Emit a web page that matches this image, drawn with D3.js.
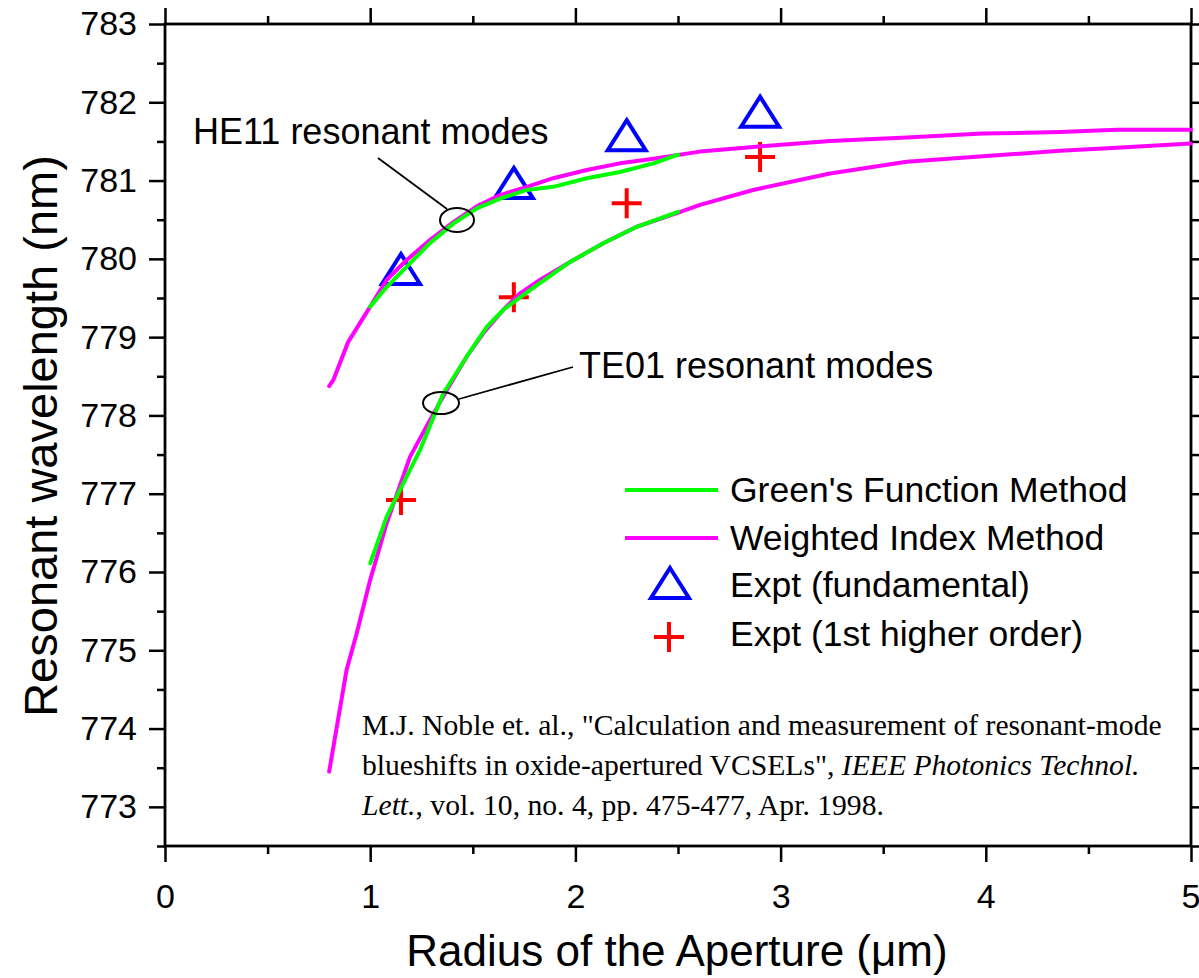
<!DOCTYPE html>
<html>
<head>
<meta charset="utf-8">
<script src="https://cdn.jsdelivr.net/npm/d3@7"></script>
<style>
  body { margin: 0; background: #fff; }
  svg { display: block; }
  .ax path { display: none; }
  .ax line { stroke: #000; stroke-width: 2.5; }
  .ax text { font-family: "Liberation Sans", Arial, sans-serif; font-size: 34px; fill: #000; }
</style>
</head>
<body>
<script>
// HE11 (upper) curves
let heWiX = [0.80, 0.82, 0.893, 1.0, 1.08, 1.178, 1.291, 1.405, 1.519, 1.633, 1.763, 1.892, 2.055, 2.217, 2.38, 2.607, 2.866, 3.241, 3.614, 3.986, 4.362, 4.639, 5.0];
let heWiY = [778.375, 778.45, 778.94, 779.39, 779.73, 779.985, 780.24, 780.47, 780.67, 780.815, 780.92, 781.03, 781.135, 781.22, 781.28, 781.37, 781.43, 781.505, 781.55, 781.60, 781.62, 781.65, 781.65];
let heGfX = [1.0, 1.08, 1.178, 1.291, 1.405, 1.519, 1.633, 1.763, 1.892, 2.055, 2.217, 2.38, 2.5];
let heGfY = [779.39, 779.64, 779.90, 780.20, 780.45, 780.645, 780.77, 780.88, 780.92, 781.03, 781.11, 781.22, 781.33];

// TE01 (lower) curves
let teWiX = [0.80, 0.885, 0.934, 1.0, 1.08, 1.194, 1.291, 1.373, 1.47, 1.551, 1.649, 1.73, 1.827, 1.974, 2.136, 2.299, 2.512, 2.607, 2.866, 3.241, 3.614, 3.986, 4.362, 4.639, 5.0];
let teWiY = [773.45, 774.75, 775.215, 775.90, 776.62, 777.47, 777.94, 778.32, 778.75, 779.05, 779.35, 779.56, 779.73, 779.96, 780.20, 780.41, 780.60, 780.69, 780.88, 781.09, 781.24, 781.31, 781.38, 781.42, 781.475];
let teGfX = [1.0, 1.08, 1.243, 1.356, 1.47, 1.568, 1.649, 1.779, 1.974, 2.136, 2.299, 2.5];
let teGfY = [776.11, 776.705, 777.56, 778.28, 778.75, 779.13, 779.35, 779.60, 779.96, 780.20, 780.41, 780.60];

// experiment
let exptX = [1.15, 1.7, 2.25, 2.9];
let fundY = [779.87, 780.97, 781.58, 781.88];
let higherY = [776.92, 779.51, 780.71, 781.30];

let xTicks = [0, 1, 2, 3, 4, 5];
let xMinor = [0.5, 1.5, 2.5, 3.5, 4.5];
let yTicks = [773, 774, 775, 776, 777, 778, 779, 780, 781, 782, 783];
let yMinor = [772.5, 773.5, 774.5, 775.5, 776.5, 777.5, 778.5, 779.5, 780.5, 781.5, 782.5];

let legendNames = ["Green's Function Method", "Weighted Index Method", "Expt (fundamental)", "Expt (1st higher order)"];

let w = 1199, h = 978;
let sans = "'Liberation Sans', Arial, sans-serif";
let svg = d3.select("body").append("svg").attr("width", w).attr("height", h);

let x = d3.scaleLinear().domain([0, 5]).range([165, 1191]);
let y = d3.scaleLinear().domain([772.5, 783]).range([846, 24]);

// axes: left & bottom with labels, top & right ticks only
svg.append("g").attr("class", "ax").attr("transform", "translate(0,846)")
  .call(d3.axisBottom(x).tickValues(xTicks).tickSize(16).tickPadding(22).tickFormat(d3.format("d")));
svg.append("g").attr("class", "ax").attr("transform", "translate(0,846)")
  .call(d3.axisBottom(x).tickValues(xMinor).tickSize(8).tickFormat(""));
svg.append("g").attr("class", "ax").attr("transform", "translate(165,0)")
  .call(d3.axisLeft(y).tickValues(yTicks).tickSize(16).tickPadding(12).tickFormat(d3.format("d")));
svg.append("g").attr("class", "ax").attr("transform", "translate(165,0)")
  .call(d3.axisLeft(y).tickValues(yMinor).tickSize(8).tickFormat(""));
svg.append("g").attr("class", "ax").attr("transform", "translate(0,24)")
  .call(d3.axisTop(x).tickValues(xTicks).tickSize(16).tickFormat(""));
svg.append("g").attr("class", "ax").attr("transform", "translate(0,24)")
  .call(d3.axisTop(x).tickValues(xMinor).tickSize(8).tickFormat(""));
svg.append("g").attr("class", "ax").attr("transform", "translate(1191,0)")
  .call(d3.axisRight(y).tickValues(yTicks.concat(yMinor)).tickSize(8).tickFormat(""));

// last x label sits on the right edge, as in the reference
svg.selectAll(".ax text").filter(d => d === 5).attr("text-anchor", "end").attr("dx", 9);

svg.append("rect").attr("x", x(0)).attr("y", y(783)).attr("width", x(5) - x(0)).attr("height", y(772.5) - y(783))
  .attr("fill", "none").attr("stroke", "#000").attr("stroke-width", 2.8);

// axis titles
svg.append("text").text("Radius of the Aperture (μm)")
  .attr("x", 677).attr("y", 966).attr("text-anchor", "middle")
  .style("font", "44px " + sans);
svg.append("text").text("Resonant wavelength (nm)")
  .attr("transform", "translate(40,436) rotate(-90)").attr("text-anchor", "middle").attr("dominant-baseline", "central")
  .style("font", "47px " + sans);

// markers
let tri = (cx, cy) => `M${cx},${cy - 15}L${cx + 19},${cy + 15}L${cx - 19},${cy + 15}Z`;
let cross = (cx, cy) => `M${cx - 15},${cy}H${cx + 15}M${cx},${cy - 15}V${cy + 15}`;

svg.append("g").selectAll("path").data(exptX).enter().append("path")
  .attr("d", (d, i) => tri(x(d), y(fundY[i])))
  .attr("fill", "none").attr("stroke", "#0000ff").attr("stroke-width", 4).attr("stroke-linejoin", "miter");
svg.append("g").selectAll("path").data(exptX).enter().append("path")
  .attr("d", (d, i) => cross(x(d), y(higherY[i])))
  .attr("fill", "none").attr("stroke", "#ff0000").attr("stroke-width", 4);

// curves
let line = d3.line().x(d => x(d[0])).y(d => y(d[1]));
let zip = (a, b) => a.map((v, i) => [v, b[i]]);
[[heWiX, heWiY, "#ff00ff"], [teWiX, teWiY, "#ff00ff"], [heGfX, heGfY, "#00ff00"], [teGfX, teGfY, "#00ff00"]].forEach(s => {
  svg.append("path").attr("d", line(zip(s[0], s[1])))
    .attr("fill", "none").attr("stroke", s[2]).attr("stroke-width", 4)
    .attr("stroke-linejoin", "round").attr("stroke-linecap", "round");
});

// annotations
let ann = svg.append("g").style("font", "36px " + sans);
ann.append("text").text("HE11 resonant modes").attr("x", 193).attr("y", 144);
ann.append("text").text("TE01 resonant modes").attr("x", 579).attr("y", 378);
ann.append("ellipse").attr("cx", 457).attr("cy", 220).attr("rx", 17).attr("ry", 12)
  .attr("fill", "none").attr("stroke", "#000").attr("stroke-width", 2);
ann.append("line").attr("x1", 378).attr("y1", 158).attr("x2", 447).attr("y2", 209).attr("stroke", "#000").attr("stroke-width", 1.8);
ann.append("ellipse").attr("cx", 441).attr("cy", 403).attr("rx", 18).attr("ry", 11)
  .attr("fill", "none").attr("stroke", "#000").attr("stroke-width", 2);
ann.append("line").attr("x1", 459).attr("y1", 399).attr("x2", 573).attr("y2", 367).attr("stroke", "#000").attr("stroke-width", 1.8);

// legend
let leg = svg.append("g").style("font", "35.5px " + sans);
let rowY = [490, 538, 585, 634];
leg.append("line").attr("x1", 625).attr("x2", 718).attr("y1", rowY[0]).attr("y2", rowY[0]).attr("stroke", "#00ff00").attr("stroke-width", 4);
leg.append("line").attr("x1", 625).attr("x2", 718).attr("y1", rowY[1]).attr("y2", rowY[1]).attr("stroke", "#ff00ff").attr("stroke-width", 4);
leg.append("path").attr("d", tri(670, 583)).attr("fill", "none").attr("stroke", "#0000ff").attr("stroke-width", 4);
leg.append("path").attr("d", cross(669, 637)).attr("fill", "none").attr("stroke", "#ff0000").attr("stroke-width", 4);
leg.selectAll("text.lg").data(legendNames).enter().append("text").attr("class", "lg")
  .text(d => d).attr("x", 730).attr("y", (d, i) => rowY[i] + 12);

// citation
let cit = svg.append("g").style("font", "29px 'Liberation Serif', 'Times New Roman', serif");
let l1 = cit.append("text").attr("x", 0).attr("y", 735)
  .text("M.J. Noble et. al., \"Calculation and measurement of resonant-mode");
let l2 = cit.append("text").attr("x", 0).attr("y", 775);
l2.append("tspan").text("blueshifts in oxide-apertured VCSELs\", ");
l2.append("tspan").style("font-style", "italic").text("IEEE Photonics Technol.");
let l3 = cit.append("text").attr("x", 0).attr("y", 815);
l3.append("tspan").style("font-style", "italic").text("Lett.");
l3.append("tspan").text(", vol. 10, no. 4, pp. 475-477, Apr. 1998.");
let k = 800 / l1.node().getComputedTextLength();
cit.attr("transform", `translate(362,0) scale(${k},1)`);
</script>
</body>
</html>
